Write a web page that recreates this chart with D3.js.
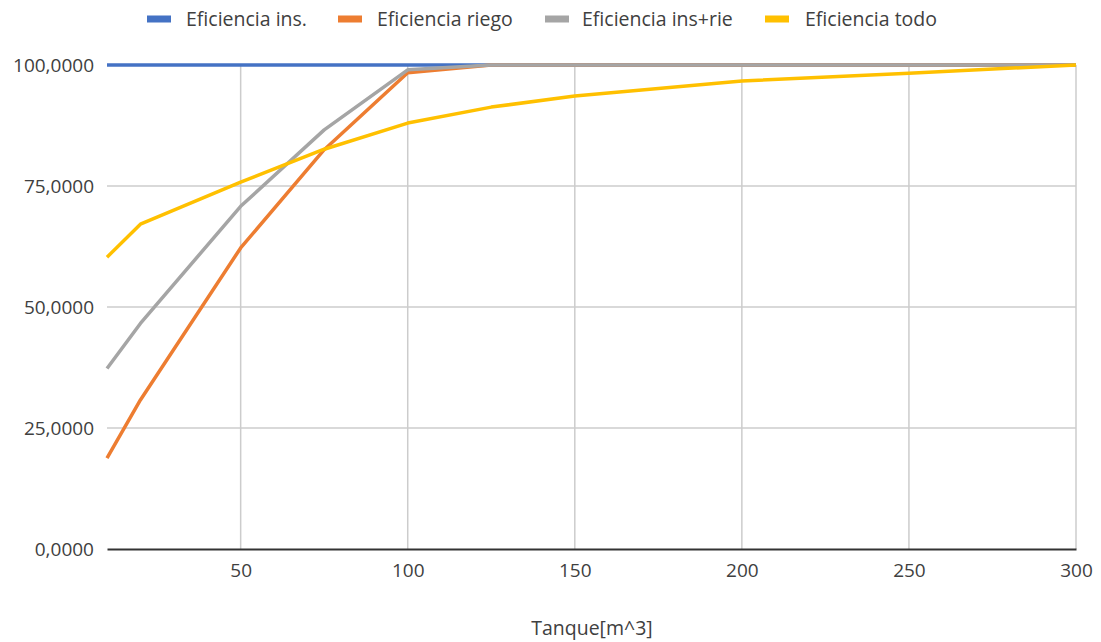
<!DOCTYPE html>
<html>
<head>
<meta charset="utf-8">
<script src="https://cdn.jsdelivr.net/npm/d3@7"></script>
<style>
  html, body { margin: 0; padding: 0; background: #fff; }
  svg { display: block; font-family: "Open Sans", "Noto Sans", sans-serif; }
</style>
</head>
<body>
<svg id="chart" width="1101" height="642"></svg>
<script>
// Tank volume (m^3) on the x axis
const tanque = [10, 20, 50, 75, 100, 125, 150, 200, 250, 300];

// Efficiency series (%)
const eficienciaIns    = [100, 100, 100, 100, 100, 100, 100, 100, 100, 100];
const eficienciaRiego  = [18.8, 30.8, 62.2, 82.5, 98.4, 100, 100, 100, 100, 100];
const eficienciaInsRie = [37.3, 46.6, 70.8, 86.6, 99.0, 100, 100, 100, 100, 100];
const eficienciaTodo   = [60.3, 67.1, 75.8, 82.6, 88.0, 91.3, 93.6, 96.7, 98.3, 100];

const seriesNames  = ["Eficiencia ins.", "Eficiencia riego", "Eficiencia ins+rie", "Eficiencia todo"];
const seriesColors = ["#4472c4", "#ed7d31", "#a5a5a5", "#ffc000"];
const seriesValues = [eficienciaIns, eficienciaRiego, eficienciaInsRie, eficienciaTodo];

const xTicks = [50, 100, 150, 200, 250, 300];
const yTicks = [0, 25, 50, 75, 100];

const svg = d3.select("#chart");
const plotLeft = 107, plotRight = 1076, plotTop = 65, plotBottom = 549;
const textColor = "#404040";

const x = d3.scaleLinear().domain([10, 300]).range([plotLeft, plotRight]);
const y = d3.scaleLinear().domain([0, 100]).range([plotBottom, plotTop]);

// Grid
const grid = svg.append("g");
grid.selectAll("line.h").data(yTicks.filter(d => d > 0)).join("line")
  .attr("class", "h")
  .attr("x1", plotLeft).attr("x2", plotRight)
  .attr("y1", d => y(d)).attr("y2", d => y(d))
  .attr("stroke", "#cccccc").attr("stroke-width", 1.5);
grid.selectAll("line.v").data(xTicks).join("line")
  .attr("class", "v")
  .attr("x1", d => x(d)).attr("x2", d => x(d))
  .attr("y1", plotTop).attr("y2", plotBottom)
  .attr("stroke", "#cccccc").attr("stroke-width", 1.5);

// Y axis labels
const fmt = v => d3.format(".4f")(v).replace(".", ",");
const yAxis = d3.axisLeft(y).tickValues(yTicks).tickFormat(fmt).tickSize(0).tickPadding(13);
svg.append("g").attr("transform", `translate(${plotLeft},0)`).call(yAxis)
  .call(g => g.select(".domain").remove())
  .call(g => g.selectAll("text").attr("font-size", 19).attr("fill", textColor)
    .attr("font-family", "'Open Sans', sans-serif"));

// X axis
const xAxis = d3.axisBottom(x).tickValues(xTicks).tickFormat(d3.format("d")).tickSize(0).tickPadding(15);
svg.append("g").attr("transform", `translate(0,${plotBottom})`).call(xAxis)
  .call(g => g.select(".domain").attr("stroke", "#333").attr("stroke-width", 2))
  .call(g => g.selectAll("text").attr("font-size", 19).attr("fill", textColor)
    .attr("font-family", "'Open Sans', sans-serif"));

// X title
svg.append("text").attr("x", 592).attr("y", 635)
  .attr("text-anchor", "middle").attr("font-size", 19.5).attr("fill", textColor)
  .text("Tanque[m^3]");

// Lines
const line = d3.line().x((d, i) => x(tanque[i])).y(d => y(d));
seriesValues.forEach((vals, k) => {
  svg.append("path").datum(vals)
    .attr("d", line)
    .attr("fill", "none")
    .attr("stroke", seriesColors[k])
    .attr("stroke-width", 3.5)
    .attr("stroke-linejoin", "round");
});

// Legend
const legendRectX = [147, 338, 545, 765];
const legendTextX = [186, 377, 582, 805];
const legend = svg.append("g");
seriesNames.forEach((name, k) => {
  legend.append("rect").attr("x", legendRectX[k]).attr("y", 15.5).attr("width", 24).attr("height", 7)
    .attr("fill", seriesColors[k]);
  legend.append("text").attr("x", legendTextX[k]).attr("y", 26)
    .attr("font-size", 19.5).attr("fill", textColor).text(name);
});
</script>
</body>
</html>
